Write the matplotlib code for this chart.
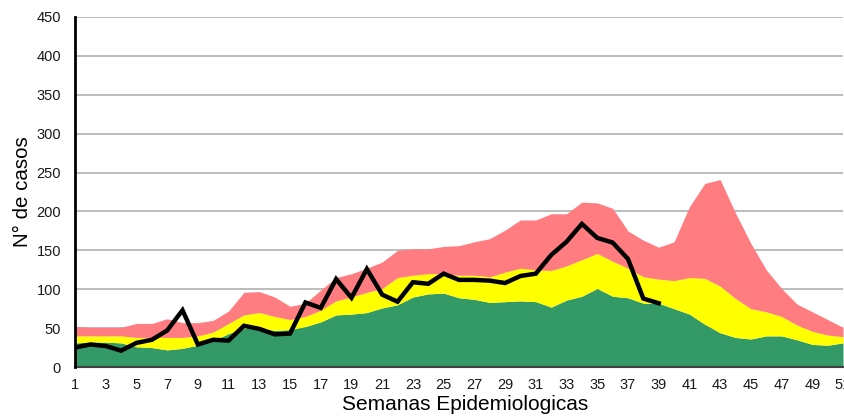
import matplotlib
matplotlib.use("Agg")
import matplotlib.pyplot as plt

plt.rcParams["font.family"] = ["Liberation Sans", "DejaVu Sans"]

weeks = list(range(1, 52))

# stacked channel (cumulative tops)
green_top = [31, 32, 32, 31, 26, 25, 22, 24, 28, 34, 43, 50, 50, 47, 48, 52, 58, 67, 68,
             70, 76, 80, 90, 94, 95, 89, 87, 83, 84, 85, 84, 77, 86, 91, 101, 91, 89,
             82, 82, 75, 68, 55, 44, 38, 36, 40, 40, 35, 29, 28, 31]
yellow_top = [40, 40, 40, 40, 38, 38, 38, 38, 40, 45, 56, 67, 70, 65, 61, 65, 73, 85, 90,
              96, 101, 115, 118, 120, 120, 118, 118, 116, 122, 127, 125, 124, 130, 138, 146, 136, 127,
              116, 113, 111, 115, 114, 104, 88, 75, 71, 65, 54, 46, 41, 39]
red_top = [52, 51, 51, 51, 56, 56, 62, 57, 57, 60, 72, 96, 97, 90, 78, 82, 99, 115, 120,
           127, 135, 150, 152, 152, 155, 156, 161, 165, 176, 189, 189, 197, 197, 212, 211, 204, 175,
           163, 154, 161, 206, 236, 241, 198, 159, 125, 101, 81, 71, 61, 51]

current_weeks = list(range(1, 40))
current = [25, 29, 27, 21, 31, 35, 47, 73, 29, 35, 34, 53, 49, 42, 43, 83, 76, 113, 89,
           126, 93, 84, 109, 107, 120, 112, 112, 111, 108, 117, 120, 144, 161, 184, 166, 160, 139,
           88, 82]

fig = plt.figure(figsize=(8.44, 4.19), dpi=100)
ax = fig.add_axes([75 / 844, 1 - 367 / 419, 768 / 844, 350 / 419])

ax.fill_between(weeks, 0, green_top, color="#339966", linewidth=0)
ax.fill_between(weeks, green_top, yellow_top, color="#FFFF00", linewidth=0)
ax.fill_between(weeks, yellow_top, red_top, color="#FF7C80", linewidth=0)
ax.plot(current_weeks, current, color="black", linewidth=3.2, solid_joinstyle="miter")

ax.set_xlim(1, 51)
ax.set_ylim(0, 450)
ax.set_xticks(range(1, 52, 2))
ax.set_yticks(range(0, 451, 50))
ax.yaxis.grid(True, color="#b0b0b0", linewidth=1.2)
ax.set_axisbelow(True)
ax.tick_params(length=0, labelsize=10.5, colors="#1a1a1a")
ax.tick_params(axis="y", pad=10)
ax.tick_params(axis="x", pad=8)

for s in ("top", "right"):
    ax.spines[s].set_visible(False)
ax.spines["left"].set_color("black")
ax.spines["left"].set_linewidth(2)
ax.spines["bottom"].set_color("#404040")
ax.spines["bottom"].set_linewidth(1.5)
ax.spines["left"].set_zorder(5)

ax.set_xlabel("Semanas Epidemiologicas", fontsize=15)
ax.set_ylabel("N° de casos", fontsize=14.8)
# label centres (pixels -> axes fraction)
ax.xaxis.set_label_coords((465 - 75) / 768, -(404 - 367) / 350, transform=ax.transAxes)
ax.yaxis.set_label_coords(-(75 - 23) / 768, 0.5, transform=ax.transAxes)
ax.xaxis.label.set_va("center")
ax.yaxis.label.set_va("center")

fig.savefig("out.png", dpi=100)
